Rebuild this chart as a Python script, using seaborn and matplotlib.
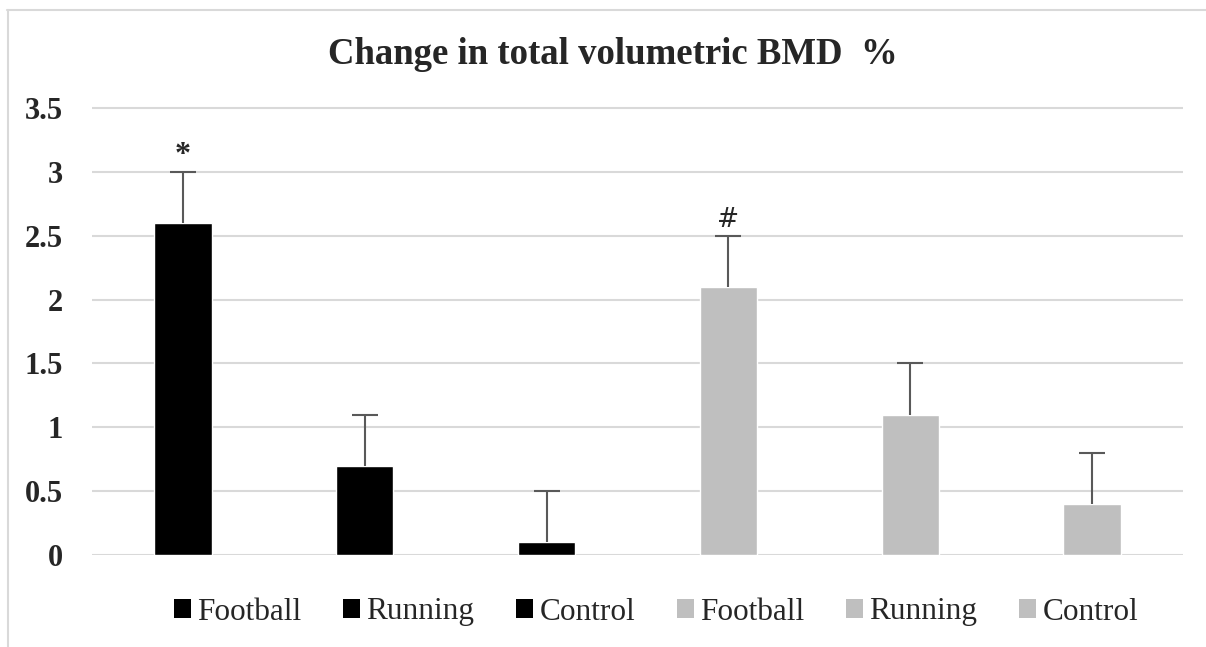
import matplotlib
matplotlib.use("Agg")
import matplotlib.pyplot as plt
from matplotlib.patches import Patch
from matplotlib.lines import Line2D
import seaborn as sns
import numpy as np
import pandas as pd

# ---- data ----
labels = ["Football", "Running", "Control", "Football", "Running", "Control"]
values = [2.6, 0.7, 0.1, 2.1, 1.1, 0.4]
errors = [0.4, 0.4, 0.4, 0.4, 0.4, 0.4]
colors = ["#000000", "#000000", "#000000", "#bfbfbf", "#bfbfbf", "#bfbfbf"]
yticks = [0, 0.5, 1, 1.5, 2, 2.5, 3, 3.5]
ytick_labels = ["0", "0.5", "1", "1.5", "2", "2.5", "3", "3.5"]
marks = {0: "*", 3: "#"}
title = "Change in total volumetric BMD  %"

sns.set_theme(style="white")
plt.rcParams["font.family"] = ["Liberation Serif", "DejaVu Serif"]

W, H = 1206, 647
fig = plt.figure(figsize=(W / 100, H / 100), dpi=100)
px_unit = (555 - 108) / 3.5
ytop = 3.55
ax = fig.add_axes([92 / W, 1 - 555 / H, (1183 - 92) / W, ytop * px_unit / H])

df = pd.DataFrame({"pos": list(range(len(values))), "value": values})
sns.barplot(data=df, x="pos", y="value", hue="pos", palette=colors,
            legend=False, width=0.315, saturation=1, ax=ax, zorder=2)

cont = ax.errorbar(df["pos"], values, yerr=[np.zeros(len(errors)), errors],
                   fmt="none", ecolor="#595959", elinewidth=1.5,
                   capsize=9.5, capthick=1.5, zorder=3)
for cl in cont.lines[1]:
    if np.allclose(cl.get_ydata(), values):
        cl.set_visible(False)

ax.set_xlim(-0.5, len(values) - 0.5)
ax.set_ylim(0, ytop)
ax.set_yticks(yticks)
ax.set_yticklabels(ytick_labels, fontsize=22, fontweight="bold",
                   family="Liberation Serif")
ax.tick_params(axis="y", length=0, pad=21)
ax.set_xticks([])
ax.set_xlabel("")
ax.set_ylabel("")
ax.grid(axis="y", color="#d9d9d9", linewidth=1.5, zorder=0)
ax.set_axisbelow(True)
for s in ax.spines.values():
    s.set_visible(False)

# annotations
ax.text(0, 3.13, marks[0], ha="center", va="center", fontsize=23,
        fontweight="bold", family="Liberation Serif")
ax.text(3, 2.62, marks[3], ha="center", va="center", fontsize=19,
        family="DejaVu Sans")

fig.text(613 / W, 1 - 55 / H, title, ha="center", va="center",
         fontsize=26.5, fontweight="bold", family="Liberation Serif")

handles = [Patch(facecolor=c, edgecolor="none") for c in colors]
fig.legend(handles, labels, loc="center", bbox_to_anchor=(656 / W, 1 - 612 / H),
           ncol=6, frameon=False,
           prop={"family": "Liberation Serif", "size": 22.5},
           handlelength=0.55, handleheight=0.55, handletextpad=0.2,
           columnspacing=1.33, borderpad=0)

# chart frame
fig.add_artist(Line2D([7 / W, 1], [1 - 10 / H, 1 - 10 / H], color="#d9d9d9",
                      linewidth=1.5, transform=fig.transFigure))
fig.add_artist(Line2D([7.5 / W, 7.5 / W], [0, 1 - 10 / H], color="#d9d9d9",
                      linewidth=1.5, transform=fig.transFigure))

fig.savefig("out.png", dpi=100, facecolor="white")
